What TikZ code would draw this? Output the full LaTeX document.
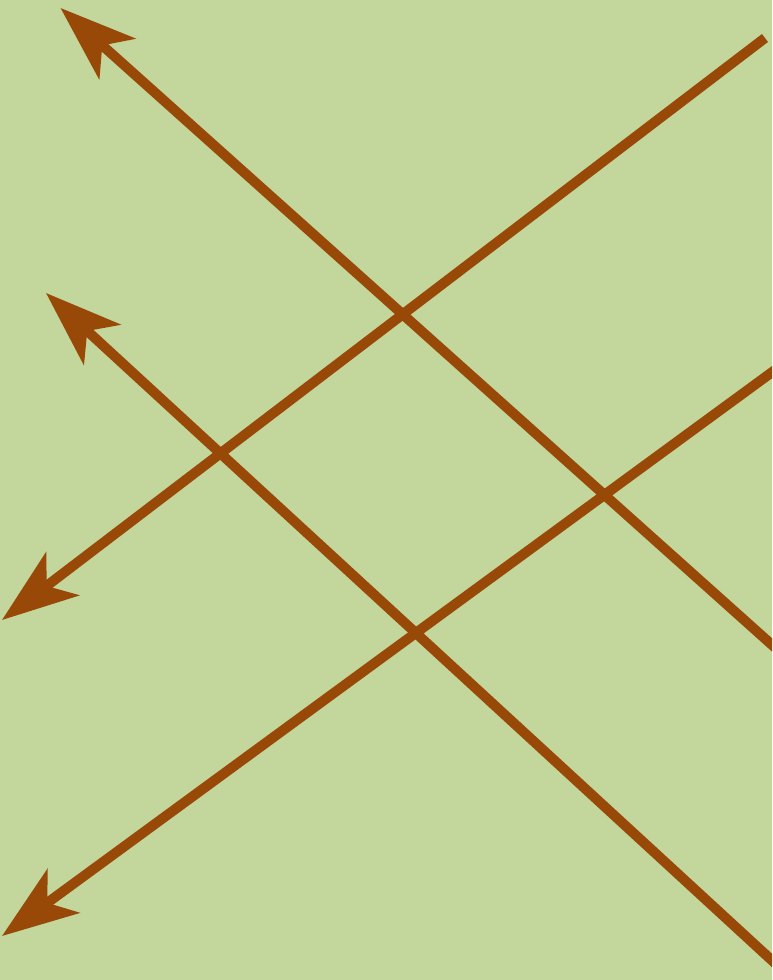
\documentclass[tikz,border=0pt]{standalone}
\usetikzlibrary{arrows.meta}
\definecolor{bggreen}{HTML}{C3D69B}
\definecolor{arrowbrown}{HTML}{984807}
\begin{document}
\begin{tikzpicture}[x=1pt,y=-1pt,
  arrowline/.style={draw=arrowbrown,line width=10pt,
    -{Stealth[length=76pt,width=54pt,inset=20pt,fill=arrowbrown]}}]
\fill[bggreen] (0,0) rectangle (772,980);
\useasboundingbox (0,0) rectangle (772,980);
\clip (0,0) rectangle (772,980);
\coordinate (a1s) at (790,661);
\coordinate (a1t) at (60.5,8);
\coordinate (a2s) at (765,38);
\coordinate (a2t) at (2,620);
\coordinate (a3s) at (790,359);
\coordinate (a3t) at (2,936);
\coordinate (a4s) at (790,977);
\coordinate (a4t) at (46,293);
\draw[arrowline] (a1s) -- (a1t);
\draw[arrowline] (a2s) -- (a2t);
\draw[arrowline] (a3s) -- (a3t);
\draw[arrowline] (a4s) -- (a4t);
\end{tikzpicture}
\end{document}
